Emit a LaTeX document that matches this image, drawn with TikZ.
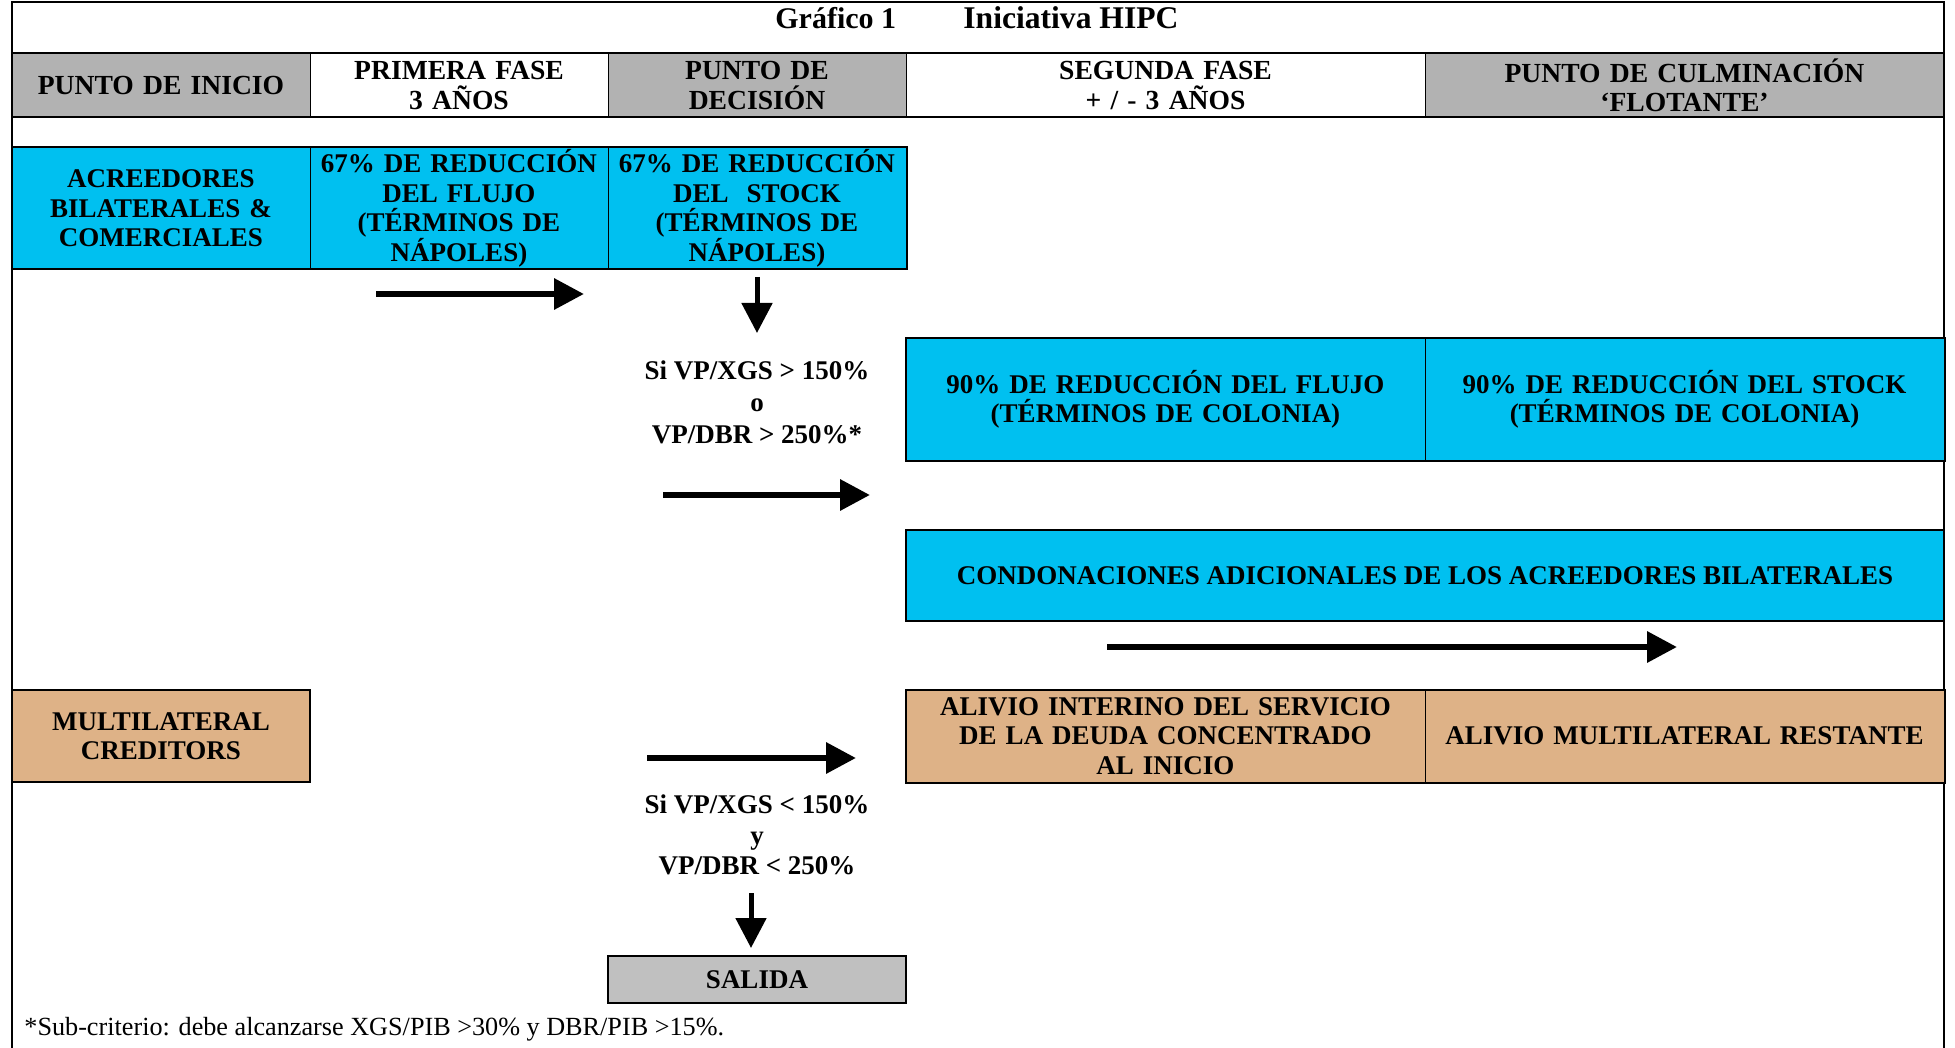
\documentclass[tikz,border=0pt]{standalone}
\usepackage{fontspec}
\setmainfont{Liberation Serif}
\usetikzlibrary{arrows.meta}
\definecolor{cyanbox}{RGB}{0,192,240}
\definecolor{tanbox}{RGB}{222,178,135}
\definecolor{hdrgray}{RGB}{178,178,178}
\definecolor{exitgray}{RGB}{192,192,192}
\tikzset{
  cellbox/.style={draw, line width=0.5pt, inner sep=0pt, align=center,
    font=\bfseries\fontsize{13.5}{14.75}\selectfont},
  narrowcell/.style={cellbox, minimum width=149pt, text width=144pt},
  widecell/.style={cellbox, minimum width=259.5pt, text width=254pt},
  hdrrow/.style={minimum height=31.5pt, font=\bfseries\fontsize{13.8}{14.75}\selectfont},
  bluerow/.style={minimum height=60.5pt, fill=cyanbox},
  tanrow/.style={minimum height=46pt, fill=tanbox},
  frameline/.style={line width=1pt},
  titletext/.style={anchor=base west, inner sep=0pt, font=\bfseries\fontsize{15}{18}\selectfont},
  condtext/.style={align=center, inner sep=0pt, font=\bfseries\fontsize{13.5}{16}\selectfont},
  bigarrow/.style={line width=3.2pt, -{Triangle[width=15pt,length=15pt]}},
  downarrow/.style={line width=2.5pt, -{Triangle[width=15pt,length=15pt]}},
}
\begin{document}
\begin{tikzpicture}[x=0.5pt,y=-0.5pt]
\useasboundingbox (0,0) rectangle (1955,1048);
% title
\node[titletext] (t1) at (775,29) {Gráfico 1};
\node[titletext, font=\bfseries\fontsize{15.8}{18}\selectfont] (t2) at (963,29) {Iniciativa HIPC};
% header row
\node[narrowcell, hdrrow, fill=hdrgray] (h1) at (161,85.5) {PUNTO DE INICIO};
\node[narrowcell, hdrrow] (h2) at (459,85.5) {PRIMERA FASE\\3 AÑOS};
\node[narrowcell, hdrrow, fill=hdrgray] (h3) at (757,85.5) {PUNTO DE\\DECISIÓN};
\node[widecell, hdrrow] (h4) at (1165.5,85.5) {SEGUNDA FASE\\+ / - 3 AÑOS};
\node[widecell, hdrrow, fill=hdrgray] (h5) at (1684.5,85.5) {PUNTO DE CULMINACIÓN\\‘FLOTANTE’};
% frame
\draw[frameline] (12,1048) -- (12,2) -- (1944,2) -- (1944,1048);
\draw[frameline] (h1.north west) -- (h5.north east);
\draw[frameline] (h1.south west) -- (h5.south east);
% bilateral row
\node[narrowcell, bluerow] (c1) at (161,208.5) {ACREEDORES\\BILATERALES \&\\COMERCIALES};
\node[narrowcell, bluerow] (c2) at (459,208.5) {67\% DE REDUCCIÓN\\DEL FLUJO\\(TÉRMINOS DE\\NÁPOLES)};
\node[narrowcell, bluerow] (c3) at (757,208.5) {67\% DE REDUCCIÓN\\DEL~ STOCK\\(TÉRMINOS DE\\NÁPOLES)};
\draw[frameline] (c1.north west) rectangle (c3.south east);
% colonia row
\node[widecell, bluerow] (d1) at (1165.5,399.5) {90\% DE REDUCCIÓN DEL FLUJO\\(TÉRMINOS DE COLONIA)};
\node[widecell, bluerow] (d2) at (1684.5,399.5) {90\% DE REDUCCIÓN DEL STOCK\\(TÉRMINOS DE COLONIA)};
\draw[frameline] (d1.north west) rectangle (d2.south east);
% condonaciones
\node[cellbox, fill=cyanbox, minimum width=519pt, minimum height=45.5pt, line width=1pt] (e1) at (1425,575.5) {CONDONACIONES ADICIONALES DE LOS ACREEDORES BILATERALES};
% multilateral row
\node[narrowcell, tanrow, line width=1pt] (m1) at (161,736) {MULTILATERAL\\CREDITORS};
\node[widecell, tanrow] (m2) at (1165.5,736) {ALIVIO INTERINO DEL SERVICIO\\DE LA DEUDA CONCENTRADO\\AL INICIO};
\node[widecell, tanrow] (m3) at (1684.5,736) {ALIVIO MULTILATERAL RESTANTE};
\draw[frameline] (m2.north west) rectangle (m3.south east);
% salida
\node[narrowcell, fill=exitgray, minimum height=23.5pt, line width=1pt] (s1) at (757,979.5) {SALIDA};
% condition texts
\node[condtext] (k1) at (757,402) {Si VP/XGS > 150\%\\o\\VP/DBR > 250\%*};
\node[condtext, font=\bfseries\fontsize{13.5}{15.25}\selectfont] (k2) at (757,835) {Si VP/XGS < 150\%\\y\\VP/DBR < 250\%};
% footnote
\node[anchor=base west, inner sep=0pt, font=\fontsize{13.1}{15}\selectfont] (fn) at (24,1035) {*Sub-criterio: debe alcanzarse XGS/PIB >30\% y DBR/PIB >15\%.};
% arrows
\coordinate (a1s) at (376,294); \coordinate (a1e) at (584,294);
\coordinate (a2s) at (757,277); \coordinate (a2e) at (757,333);
\coordinate (a3s) at (663,495); \coordinate (a3e) at (870,495);
\coordinate (a4s) at (1107,647); \coordinate (a4e) at (1677,647);
\coordinate (a5s) at (647,758); \coordinate (a5e) at (856,758);
\coordinate (a6s) at (751,893); \coordinate (a6e) at (751,948);
\draw[bigarrow] (a1s) -- (a1e);
\draw[downarrow] (a2s) -- (a2e);
\draw[bigarrow] (a3s) -- (a3e);
\draw[bigarrow] (a4s) -- (a4e);
\draw[bigarrow] (a5s) -- (a5e);
\draw[downarrow] (a6s) -- (a6e);
\end{tikzpicture}
\end{document}
